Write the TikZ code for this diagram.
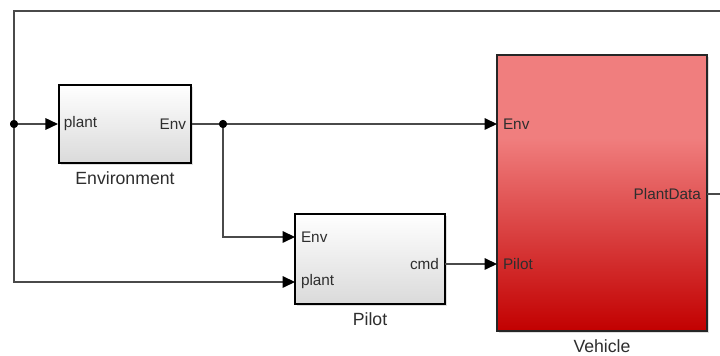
\documentclass[tikz,border=0pt]{standalone}
\usepackage{fontspec}
\setmainfont{Liberation Sans}
\usepackage{xcolor}
\usepackage{tikz}
\usetikzlibrary{arrows.meta, positioning, shadows}
\definecolor{wiregray}{HTML}{4A4A4A}
\definecolor{textgray}{HTML}{2E2E2E}
\definecolor{blocktop}{HTML}{FFFFFF}
\definecolor{blockbottom}{HTML}{DADADA}
\definecolor{vehtop}{HTML}{F07E7E}
\definecolor{vehbottom}{HTML}{C20000}
\pgfdeclareverticalshading{vehshade}{100bp}{color(0bp)=(vehbottom); color(25bp)=(vehbottom); color(60bp)=(vehtop); color(75bp)=(vehtop); color(100bp)=(vehtop)}
\tikzset{
    subsys/.style={
        rectangle,
        draw=black,
        line width=1.3pt,
        top color=blocktop,
        bottom color=blockbottom,
        drop shadow={shadow xshift=1pt, shadow yshift=-1pt, opacity=0.25},
        inner sep=0pt
    },
    plantbox/.style={
        rectangle,
        draw=black!85,
        line width=0.9pt,
        shading=vehshade,
        drop shadow={shadow xshift=1pt, shadow yshift=-1pt, opacity=0.25},
        inner sep=0pt
    },
    portlbl/.style={
        font=\fontsize{9.2}{11}\selectfont,
        text=textgray,
        inner sep=3.4pt
    },
    blockname/.style={
        font=\fontsize{10.6}{12}\selectfont,
        text=textgray
    },
    signal/.style={
        -{Triangle[length=7.5pt, width=7pt, color=black, fill=black]},
        draw=wiregray,
        line width=0.7pt
    },
    wire/.style={
        draw=wiregray,
        line width=0.7pt
    },
    junction/.style={
        circle,
        fill=black,
        inner sep=0pt,
        minimum size=4.8pt
    }
}
\begin{document}
\begin{tikzpicture}[x=0.6pt, y=-0.6pt]
    \useasboundingbox (0,0) rectangle (720,356);

    % blocks
    \node[subsys, minimum width=79.2pt, minimum height=46.8pt] (env) at (125,124) {};
    \node[subsys, minimum width=90pt, minimum height=54pt] (pilot) at (370,259) {};
    \node[plantbox, minimum width=126pt, minimum height=165.6pt] (vehicle) at (602,193) {};

    \node[blockname, below=1pt of env] (envname) {Environment};
    \node[blockname, below=1pt of pilot] (pilotname) {Pilot};
    \node[blockname, below=1pt of vehicle] (vehname) {Vehicle};

    % ports
    \node[portlbl, anchor=west] (envplant) at (env.west) {plant};
    \node[portlbl, anchor=east] (envout) at (env.east) {Env};
    \node[portlbl, anchor=west] (pilotenv) at (295,237) {Env};
    \node[portlbl, anchor=west] (pilotplant) at (295,282) {plant};
    \node[portlbl, anchor=east] (pilotcmd) at (445,264) {cmd};
    \node[portlbl, anchor=west] (vehenv) at (497,124) {Env};
    \node[portlbl, anchor=west] (vehpilot) at (497,264) {Pilot};
    \node[portlbl, anchor=east] (vehdata) at (707,194) {PlantData};

    % branch points and free ends
    \node[junction] (plantsplit) at (14,124) {};
    \node[junction] (envsplit) at (223,124) {};
    \coordinate (feedtop) at (720,11);
    \coordinate (dataout) at (720,194);

    % signals
    \draw[wire] (plantsplit.center) |- (feedtop);
    \draw[signal] (plantsplit.center) -- (envplant.west);
    \draw[signal] (plantsplit.center) |- (pilotplant.west);
    \draw[signal] (envout.east) -- (vehenv.west);
    \draw[signal] (envsplit.center) |- (pilotenv.west);
    \draw[signal] (pilotcmd.east) -- (vehpilot.west);
    \draw[wire] (vehdata.east) -- (dataout);

    \node[junction] at (plantsplit) {};
    \node[junction] at (envsplit) {};
\end{tikzpicture}
\end{document}
